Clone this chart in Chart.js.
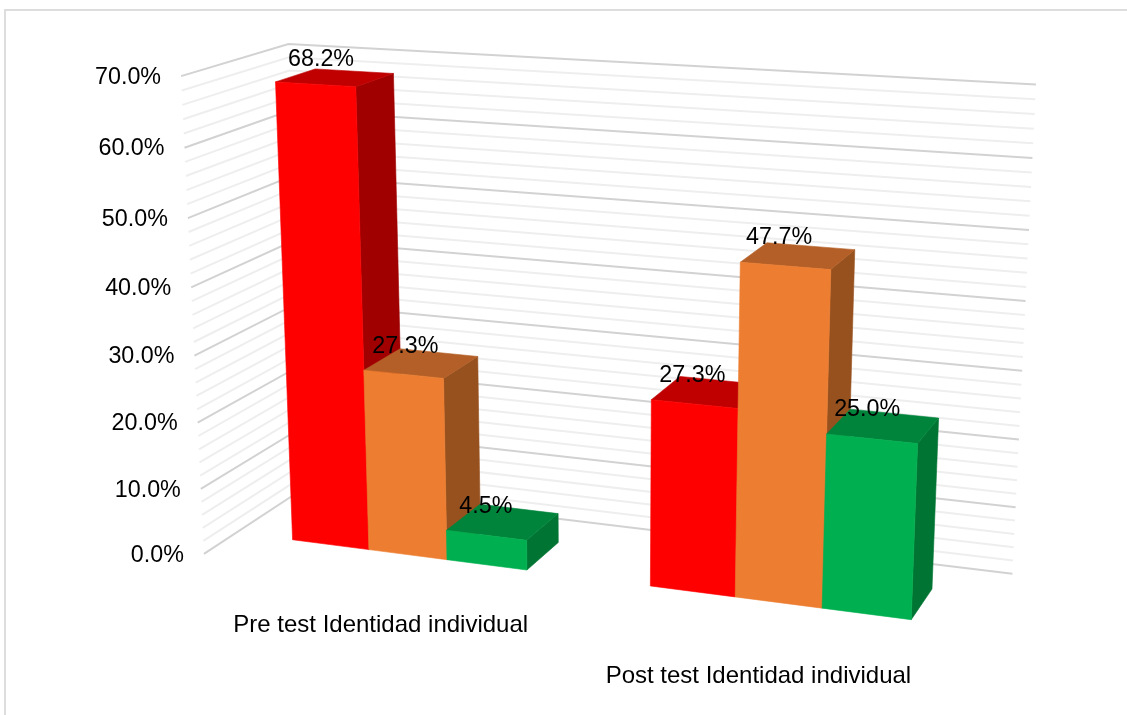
<!DOCTYPE html>
<html><head><meta charset="utf-8">
<style>
html,body{margin:0;padding:0;background:#fff;overflow:hidden}
#wrap{position:absolute;left:0;top:0;width:1127px;height:715px}
#frame{position:absolute;left:4px;top:9px;right:0;bottom:0;border-left:2px solid #dddddd;border-top:2px solid #dddddd}
canvas{position:absolute;left:0;top:0}
</style>
<script src="https://cdn.jsdelivr.net/npm/chart.js@4"></script>
</head><body>
<div id="wrap"><div id="frame"></div><canvas id="c" width="1127" height="715"></canvas></div>
<script>
const categories = ["Pre test Identidad individual", "Post test Identidad individual"];
const redValues = [68.2, 27.3];
const orangeValues = [27.3, 47.7];
const greenValues = [4.5, 25.0];

const FONT_NUM = '23.3px "Liberation Sans", Arial, sans-serif';
const FONT_CAT = '24px "Liberation Sans", Arial, sans-serif';
const FACES = [
  {front:'#ff0000', top:'#c00000', side:'#a00000'},
  {front:'#ed7d31', top:'#b45f27', side:'#97511e'},
  {front:'#00b050', top:'#00843c', side:'#007433'}
];
// Camera: image of the plot rectangle on the plane of the bars' front faces
const QUAD = {bl:[236.5,532.5], br:[979.5,628.5], tr:[1002.5,111.5], tl:[216,65.7]};
const VANISH = [1560,-337];
const DEPTH_K = 0.03;
const WALL_FRONT = -0.80, WALL_BACK = 1.80, WALL_U_END = 1.0;
const CAT_OFFSET = [[-27,70.5],[-20,73.5]];
const LABEL_NUDGE = [[[2,-2],[0,0]],[[0,0],[-3,-2]],[[-1,1],[0,0]]];

function homography(q){
  const [x0,y0]=q.bl,[x1,y1]=q.br,[x2,y2]=q.tr,[x3,y3]=q.tl;
  const dx1=x1-x2,dx2=x3-x2,sx=x0-x1+x2-x3,dy1=y1-y2,dy2=y3-y2,sy=y0-y1+y2-y3;
  const den=dx1*dy2-dx2*dy1;
  const g=(sx*dy2-dx2*sy)/den,h=(dx1*sy-sx*dy1)/den;
  return {a:x1-x0+g*x1,b:x3-x0+h*x3,c:x0,d:y1-y0+g*y1,e:y3-y0+h*y3,f:y0,g,h};
}
const H = homography(QUAD);
function project(u,v,w){
  const k=w*DEPTH_K, W=H.g*u+H.h*v+1+k;
  return [(H.a*u+H.b*v+H.c+k*VANISH[0])/W,(H.d*u+H.e*v+H.f+k*VANISH[1])/W];
}
function poly(ctx,pts,color){
  ctx.fillStyle=color;ctx.strokeStyle=color;ctx.lineWidth=0.6;ctx.beginPath();
  pts.forEach((p,i)=>i?ctx.lineTo(p[0],p[1]):ctx.moveTo(p[0],p[1]));
  ctx.closePath();ctx.fill();ctx.stroke();
}
const scene3d = {
  id:'scene3d',
  beforeDatasetsDraw(chart){
    const ctx=chart.ctx, A=chart.chartArea, yS=chart.scales.y, xS=chart.scales.x;
    const U=px=>(px-A.left)/(A.right-A.left), V=py=>(A.bottom-py)/(A.bottom-A.top);
    ctx.save();
    // walls
    ctx.lineCap='butt';
    const ticks=yS.ticks;
    ticks.filter(t=>t.value%10!==0).concat(ticks.filter(t=>t.value%10===0)).forEach(t=>{
      const v=V(yS.getPixelForValue(t.value));
      const a=project(0,v,WALL_FRONT),b=project(0,v,WALL_BACK),c=project(WALL_U_END,v,WALL_BACK);
      ctx.strokeStyle=t.value%10===0?'#d2d2d2':'#eeeeee';
      ctx.lineWidth=2;ctx.beginPath();ctx.moveTo(a[0],a[1]);ctx.lineTo(b[0],b[1]);ctx.lineTo(c[0],c[1]);ctx.stroke();
    });
    // bars
    const labels=[];
    chart.data.datasets.forEach((ds,di)=>{
      chart.getDatasetMeta(di).data.forEach((el,i)=>{
        const u0=U(el.x-el.width/2),u1=U(el.x+el.width/2),v0=V(el.base),v1=V(el.y),f=FACES[di];
        poly(ctx,[project(u1,v0,0),project(u1,v0,1),project(u1,v1,1),project(u1,v1,0)],f.side);
        poly(ctx,[project(u0,v1,0),project(u1,v1,0),project(u1,v1,1),project(u0,v1,1)],f.top);
        poly(ctx,[project(u0,v0,0),project(u1,v0,0),project(u1,v1,0),project(u0,v1,0)],f.front);
        const p=project((u0+u1)/2,v1,0.5),n=LABEL_NUDGE[di][i];
        labels.push({x:p[0]-16+n[0],y:p[1]-16.5+n[1],t:ds.data[i].toFixed(1)+'%'});
      });
    });
    // text
    ctx.fillStyle='#000';ctx.font=FONT_NUM;ctx.textBaseline='middle';ctx.textAlign='center';
    labels.forEach(l=>ctx.fillText(l.t,l.x,l.y));
    ctx.textAlign='right';
    yS.ticks.filter(t=>t.value%10===0).forEach(t=>{
      const p=project(0,V(yS.getPixelForValue(t.value)),WALL_FRONT);
      ctx.fillText(t.value.toFixed(1)+'%',p[0]-20,p[1]+1.3);
    });
    ctx.font=FONT_CAT;ctx.textAlign='center';
    categories.forEach((c,i)=>{
      const p=project(U(xS.getPixelForValue(i)),0,0);
      ctx.fillText(c,p[0]+CAT_OFFSET[i][0],p[1]+CAT_OFFSET[i][1]);
    });
    ctx.restore();
    return false;
  }
};
new Chart(document.getElementById('c'),{
  type:'bar',
  data:{labels:categories,datasets:[
    {label:'Rojo',data:redValues,backgroundColor:FACES[0].front},
    {label:'Naranja',data:orangeValues,backgroundColor:FACES[1].front},
    {label:'Verde',data:greenValues,backgroundColor:FACES[2].front}
  ]},
  plugins:[scene3d],
  options:{
    responsive:false,animation:false,devicePixelRatio:1,
    layout:{padding:20},
    datasets:{bar:{categoryPercentage:2/3,barPercentage:1}},
    plugins:{legend:{display:false},tooltip:{enabled:false},title:{display:false}},
    scales:{
      x:{display:false},
      y:{display:false,min:0,max:70,ticks:{stepSize:2,count:36}}
    }
  }
});
</script>
</body></html>
